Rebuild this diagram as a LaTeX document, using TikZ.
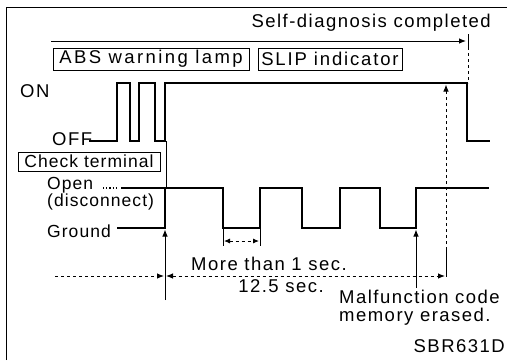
\documentclass[tikz,border=0pt]{standalone}
\usepackage{fontspec}
\setmainfont[LetterSpace=8]{Liberation Sans}
\usetikzlibrary{arrows.meta}
\begin{document}
\begin{tikzpicture}[x=1pt,y=-1pt,
  sig/.style={line width=2.4pt,line cap=rect,line join=miter},
  thinl/.style={line width=0.9pt},
  tip/.style={-{Latex[length=7pt,width=5.5pt]}},
  lbl/.style={inner sep=0pt,font=\fontsize{18.5}{20}\selectfont},
  slbl/.style={inner sep=0pt,font=\fontsize{17.5}{20}\selectfont\addfontfeature{LetterSpace=6}},
  boxed/.style={draw,line width=0.9pt,inner sep=0pt,minimum height=22pt,font=\fontsize{18.5}{20}\selectfont}]
\useasboundingbox (0,0) rectangle (507,360);
% frame
\draw[thinl] (6,360) -- (6,7) -- (507,7);
% self-diagnosis
\node[lbl,anchor=base east] (sd) at (491,27) {Self-diagnosis completed};
\coordinate (sdA) at (51,41);
\coordinate (sdB) at (466,41);
\draw[thinl,tip] (sdA) -- (sdB);
\draw[thinl] (468,34) -- (468,47);
\draw[thinl,dashed] (468,47) -- (468,83);
% boxes
\node[boxed,minimum width=196pt,font=\fontsize{18.5}{20}\selectfont\addfontfeature{LetterSpace=13}] (abs) at (151,59) {ABS warning lamp};
\node[boxed,minimum width=144pt,font=\fontsize{18.5}{20}\selectfont\addfontfeature{LetterSpace=10}] (slip) at (330,59) {SLIP indicator};
\node[boxed,minimum width=142pt,minimum height=19pt,font=\fontsize{17.5}{20}\selectfont\addfontfeature{LetterSpace=6}] (ct) at (89,161.5) {Check terminal};
% labels
\node[lbl,anchor=base west] (on) at (20,97) {ON};
\node[lbl,anchor=base west] (off) at (52,145) {OFF};
\node[slbl,anchor=base west] (open) at (47,189) {Open};
\node[slbl,anchor=base west] (disc) at (47,206) {(disconnect)};
\node[slbl,anchor=base west] (gnd) at (47,237) {Ground};
\node[lbl,anchor=base] (more) at (269,270) {More than 1 sec.};
\node[lbl,anchor=base] (t125) at (281,292) {12.5 sec.};
\node[lbl,anchor=base west] (mal1) at (339,303) {Malfunction code};
\node[lbl,anchor=base west] (mal2) at (339,321) {memory erased.};
\node[lbl,anchor=base east] (sbr) at (505,352) {SBR631D};
% lamp signal
\draw[sig] (90,141) -- (117,141) -- (117,83) -- (130,83) -- (130,141) -- (139,141) -- (139,83)
  -- (155,83) -- (155,141) -- (165,141) -- (165,83) -- (467,83) -- (467,141) -- (489,141);
\draw[thinl] (166,141) -- (166,188);
% check terminal signal
\draw[sig] (118,228) -- (165,228) -- (165,188) -- (223,188) -- (223,228) -- (260,228) -- (260,188)
  -- (302,188) -- (302,228) -- (340,228) -- (340,188) -- (380,188) -- (380,228) -- (416,228)
  -- (416,188) -- (488,188);
\draw[sig] (122,188) -- (165,188);
\draw[line width=1.2pt,dotted] (103,188) -- (118,188);
% more than 1 sec
\draw[thinl] (223,228) -- (223,246);
\draw[thinl] (260,228) -- (260,246);
\draw[thinl,dashed,{Latex[length=6pt,width=5pt]}-{Latex[length=6pt,width=5pt]}] (224,241) -- (259,241);
% up arrows
\draw[thinl,tip] (165,300) -- (165,229.5);
\draw[thinl,tip] (416,288) -- (416,229.5);
\draw[thinl,dashed,tip] (446,250) -- (446,84.5);
\draw[thinl] (446,250) -- (446,277);
% 12.5 sec
\draw[thinl,dashed,tip] (55,276) -- (164,276);
\draw[thinl,dashed,{Latex[length=7pt,width=5.5pt]}-{Latex[length=7pt,width=5.5pt]}] (166,276) -- (445,276);
\end{tikzpicture}
\end{document}
